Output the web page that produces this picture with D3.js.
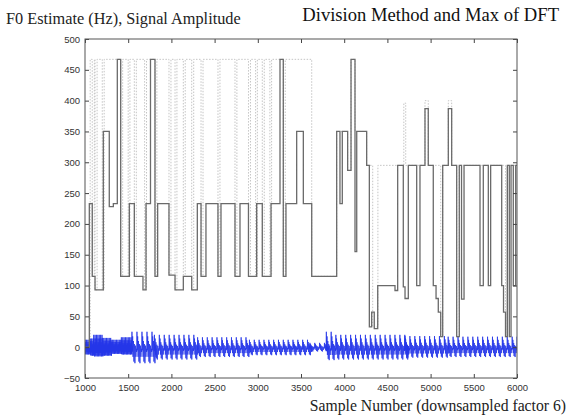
<!DOCTYPE html>
<html>
<head>
<meta charset="utf-8">
<script src="https://cdn.jsdelivr.net/npm/d3@7"></script>
<style>
  body { margin: 0; background: #fff; }
</style>
</head>
<body>
<div id="chart"></div>
<script>
// F0 from the division method (solid): sample where each step starts, value held from there
var divX = [1000,1050,1084,1116,1212,1281,1328,1374,1413,1513,1571,1671,1706,1758,1810,1841,1972,2042,2138,2235,
            2300,2343,2400,2539,2574,2736,2794,2892,2987,3052,3153,3257,3295,3326,3450,3527,3624,3913,3951,3978,
            4040,4079,4125,4145,4260,4291,4318,4348,4388,4588,4619,4684,4704,4742,4839,4877,4935,4973,5031,5063,
            5089,5117,5140,5205,5244,5302,5332,5358,5387,5572,5610,5668,5695,5823,5844,5867,5888,5911,5931,5957,
            5985,6000];
var divF0 = [0,233,115,93,350,228,233,467,115,233,115,93,233,467,115,233,117,93,115,93,
             233,115,233,115,233,115,233,115,233,115,233,467,115,233,350,233,115,350,233,350,
             287,467,155,350,295,33,57,30,100,92,295,98,79,295,100,295,387,295,100,79,
             57,17,295,387,295,17,295,78,295,100,295,100,295,100,57,17,295,17,295,100,
             295,295];

// F0 from the max of the DFT (dotted)
var dftX = [1000,1060,1084,1108,1116,1140,1200,1222,1413,1436,1500,1520,1571,1594,1690,1712,1810,1832,1972,1995,
            2042,2064,2138,2160,2235,2258,2343,2366,2539,2562,2736,2758,2892,2915,2975,2995,3052,3075,3140,3160,
            3295,3318,3624,3913,4040,4079,4125,4260,4330,4390,4690,4712,4935,4973,5117,5140,5205,5244,5302,5332,
            5867,5888,6000];
var dftF0 = [0,467,115,467,93,467,93,467,115,467,115,467,115,467,93,467,115,467,117,467,
             93,467,115,467,93,467,115,467,115,467,115,467,115,467,115,467,115,467,115,467,
             115,467,115,350,287,467,350,295,33,295,396,295,400,295,17,295,400,295,17,295,
             17,295,295];

// signal: stretches with roughly constant pitch period and peak / trough amplitude
var sigStart  = [1000,1060,1100,1200,1300,1420,1540,1800,2300,2900,3600,3790,3900,4700,5200];
var sigEnd    = [1060,1100,1200,1300,1420,1540,1800,2300,2900,3600,3790,3900,4700,5200,6000];
var sigPeriod = [16,16,16,16,16,16,58,57,56,56,56,56,57,57,57];
var sigHi     = [12,14,20,15,12,16,25,20,16,12,7,25,20,18,17];
var sigLo     = [-12,-14,-15,-14,-11,-12,-26,-20,-16,-13,-7,-21,-20,-17,-16];

// shape of one pitch period: position in the period, fraction of peak (+) or trough (-)
var cycleT = [0,0.06,0.12,0.2,0.28,0.36,0.45,0.55,0.65,0.75,0.85,0.93];
var cycleV = [-0.3,1.0,-0.2,0.7,-0.6,0.4,-0.9,0.2,-1.0,0.1,-0.6,-0.1];

var xTicks = [1000,1500,2000,2500,3000,3500,4000,4500,5000,5500,6000];
var yTicks = [-50,0,50,100,150,200,250,300,350,400,450,500];

var W = 573, H = 416;
var margin = {top: 39, right: 56, bottom: 38, left: 85};

var svg = d3.select('#chart')
  .append('svg')
    .attr('width', W)
    .attr('height', H);

var x = d3.scaleLinear()
  .domain([1000, 6000])
  .range([margin.left, W - margin.right]);

var y = d3.scaleLinear()
  .domain([-50, 500])
  .range([H - margin.bottom, margin.top]);

// build the signal points from the stretches
var sig = [];
for (var i = 0; i < sigStart.length; i++) {
  for (var t = sigStart[i]; t < sigEnd[i]; t += sigPeriod[i]) {
    for (var k = 0; k < cycleT.length; k++) {
      var v = cycleV[k] >= 0 ? cycleV[k] * sigHi[i] : -cycleV[k] * sigLo[i];
      sig.push([t + cycleT[k] * sigPeriod[i], v]);
    }
  }
}
sig.push([6000, 0]);

var stepLine = d3.line()
  .x(function(d) { return x(d[0]); })
  .y(function(d) { return y(d[1]); })
  .curve(d3.curveStepAfter);

var plainLine = d3.line()
  .x(function(d) { return x(d[0]); })
  .y(function(d) { return y(d[1]); });

svg.append('defs').append('clipPath').attr('id', 'clip')
  .append('rect')
    .attr('x', margin.left).attr('y', margin.top)
    .attr('width', W - margin.left - margin.right)
    .attr('height', H - margin.top - margin.bottom);

var plot = svg.append('g').attr('clip-path', 'url(#clip)');

// dotted DFT estimate
plot.append('path')
  .datum(d3.zip(dftX, dftF0))
  .attr('d', stepLine)
  .attr('fill', 'none')
  .attr('stroke', '#c4c4c4')
  .attr('stroke-width', 1)
  .attr('stroke-dasharray', '1.5,1.5');

// signal
plot.append('path')
  .datum(sig)
  .attr('d', plainLine)
  .attr('fill', 'none')
  .attr('stroke', '#2536e8')
  .attr('stroke-width', 0.8);

// division method estimate
plot.append('path')
  .datum(d3.zip(divX, divF0))
  .attr('d', stepLine)
  .attr('fill', 'none')
  .attr('stroke', '#6a6a6a')
  .attr('stroke-width', 1.3);

// axes, matlab style: ticks inside on all four sides
function styleAxis(g, hideText) {
  g.select('.domain').remove();
  g.selectAll('.tick line').attr('stroke', '#444');
  g.selectAll('.tick text')
    .attr('fill', '#333')
    .style('font-family', '"Liberation Sans", Arial, sans-serif')
    .style('font-size', '9.5px');
  if (hideText) g.selectAll('.tick text').remove();
}

svg.append('g')
  .attr('transform', 'translate(0,' + (H - margin.bottom) + ')')
  .call(d3.axisBottom(x).tickValues(xTicks).tickSize(-4).tickPadding(6).tickFormat(d3.format('d')))
  .call(styleAxis, false);

svg.append('g')
  .attr('transform', 'translate(0,' + margin.top + ')')
  .call(d3.axisTop(x).tickValues(xTicks).tickSize(-4))
  .call(styleAxis, true);

svg.append('g')
  .attr('transform', 'translate(' + margin.left + ',0)')
  .call(d3.axisLeft(y).tickValues(yTicks).tickSize(-4).tickPadding(5).tickFormat(d3.format('d')))
  .call(styleAxis, false);

svg.append('g')
  .attr('transform', 'translate(' + (W - margin.right) + ',0)')
  .call(d3.axisRight(y).tickValues(yTicks).tickSize(-4))
  .call(styleAxis, true);

svg.append('rect')
  .attr('x', margin.left).attr('y', margin.top)
  .attr('width', W - margin.left - margin.right)
  .attr('height', H - margin.top - margin.bottom)
  .attr('fill', 'none')
  .attr('stroke', '#555')
  .attr('stroke-width', 1);

// texts
var serif = '"Liberation Serif", "Times New Roman", serif';

svg.append('text')
  .attr('x', 6).attr('y', 24)
  .style('font-family', serif).style('font-size', '16.3px')
  .attr('fill', '#222')
  .text('F0 Estimate (Hz), Signal Amplitude');

svg.append('text')
  .attr('x', 559).attr('y', 21)
  .attr('text-anchor', 'end')
  .style('font-family', serif).style('font-size', '18.6px')
  .attr('fill', '#111')
  .text('Division Method and Max of DFT');

svg.append('text')
  .attr('x', 566).attr('y', 411)
  .attr('text-anchor', 'end')
  .style('font-family', serif).style('font-size', '15.7px')
  .attr('fill', '#222')
  .text('Sample Number (downsampled factor 6)');
</script>
</body>
</html>
